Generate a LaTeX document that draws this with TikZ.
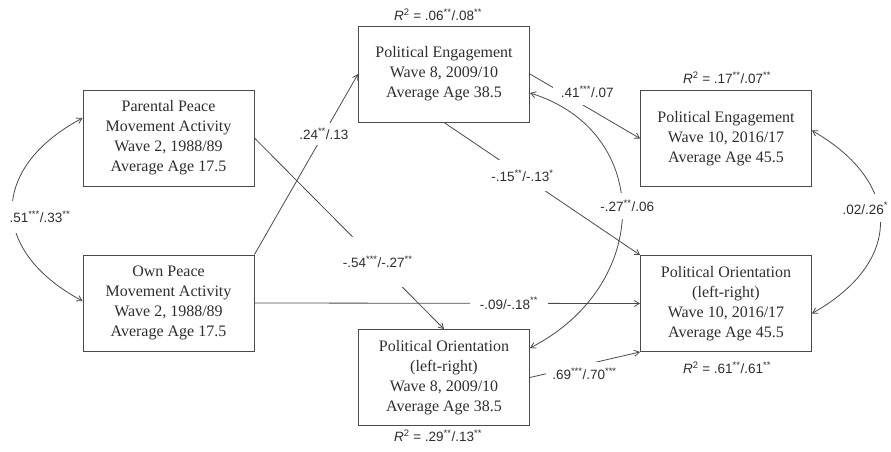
\documentclass[tikz,border=0pt]{standalone}
\usepackage{fontspec}
\setmainfont{Liberation Serif}
\setsansfont{Liberation Sans}
\usetikzlibrary{arrows.meta}
\definecolor{ink}{HTML}{2E2E2E}
\definecolor{edge}{HTML}{4A4A4A}
\newcommand{\stars}[1]{\textsuperscript{#1}}
\newcommand{\rsq}{\textit{R}\textsuperscript{2}}
\tikzstyle{var}=[rectangle,draw=edge,line width=0.9pt,text=ink,align=center,minimum width=171pt,minimum height=96pt,inner sep=0pt,font=\fontsize{16}{20}\selectfont]
\tikzstyle{coef}=[fill=white,text=ink,inner sep=3pt,font=\sffamily\fontsize{13.5}{16}\selectfont]
\tikzstyle{link}=[draw=edge,line width=0.8pt]

\begin{document}
\begin{tikzpicture}[x=1pt,y=1pt,>={Straight Barb[length=5pt,width=6pt]}]
			\useasboundingbox (0,0) rectangle (891,-452);
			\node (ppa) at (168.5,-138) [var] {Parental Peace\\Movement Activity\\Wave 2, 1988/89\\Average Age 17.5};
			\node (opa) at (168.5,-303) [var] {Own Peace\\Movement Activity\\Wave 2, 1988/89\\Average Age 17.5};
			\node (pe8) at (444,-74) [var] {Political Engagement\\Wave 8, 2009/10\\Average Age 38.5};
			\node (po8) at (444,-377.5) [var] {Political Orientation\\(left-right)\\Wave 8, 2009/10\\Average Age 38.5};
			\node (pe10) at (726,-138.5) [var] {Political Engagement\\Wave 10, 2016/17\\Average Age 45.5};
			\node (po10) at (726,-303.5) [var] {Political Orientation\\(left-right)\\Wave 10, 2016/17\\Average Age 45.5};
			
			\node (r2pe8) at (438,-15) [coef] {\rsq{} = .06\stars{**}/.08\stars{**}};
			\node (r2pe10) at (727,-78) [coef] {\rsq{} = .17\stars{**}/.07\stars{**}};
			\node (r2po10) at (727,-368) [coef] {\rsq{} = .61\stars{**}/.61\stars{**}};
			\node (r2po8) at (438,-436) [coef] {\rsq{} = .29\stars{**}/.13\stars{**}};
			
			\draw [link,->] (opa.north east) -- (pe8.west) node (b1) [coef,pos=0.67,inner ysep=5pt] {.24\stars{**}/.13};
			\draw [link,->] (ppa.east) -- (po8.north) node (b2) [coef,pos=0.65,inner xsep=4pt,inner ysep=19pt] {-.54\stars{***}/-.27\stars{**}};
			\draw [link,->] (opa.east) -- (po10.west) node (b3) [coef,pos=0.66,inner xsep=10pt] {-.09/-.18\stars{**}};
			\draw [link,->] (pe8.south) -- (po10.north west) node (b4) [coef,pos=0.40,inner sep=10pt] {-.15\stars{**}/-.13\stars{*}};
			\draw [link,->] (pe8.east) -- (pe10.west) node (b5) [coef,pos=0.52,yshift=16pt,inner sep=8pt] {.41\stars{***}/.07};
			\draw [link,->] (po8.east) -- (po10.south west) node (b6) [coef,pos=0.495,yshift=-9pt,inner sep=6pt] {.69\stars{***}/.70\stars{***}};
			
			\draw [link,<->] ([yshift=20pt]ppa.west) .. controls (-11,-168) and (-11,-251) .. ([yshift=2pt]opa.west) node (c1) [coef,pos=0.5,xshift=27.5pt,yshift=-7.5pt,inner ysep=10pt] {.51\stars{***}/.33\stars{**}};
			\draw [link,<->] ([yshift=8pt]pe10.east) .. controls (903,-183) and (903,-262) .. ([yshift=-10pt]po10.east) node (c2) [coef,pos=0.5,xshift=-15pt,yshift=14pt,inner ysep=8pt] {.02/.26\stars{*}};
			\draw [link,<->] ([yshift=-19pt]pe8.east) .. controls (653,-131) and (653,-285) .. ([yshift=29.5pt]po8.east) node (c3) [coef,pos=0.5,xshift=5pt,yshift=5pt,inner ysep=7pt] {-.27\stars{**}/.06};
\end{tikzpicture}
\end{document}
